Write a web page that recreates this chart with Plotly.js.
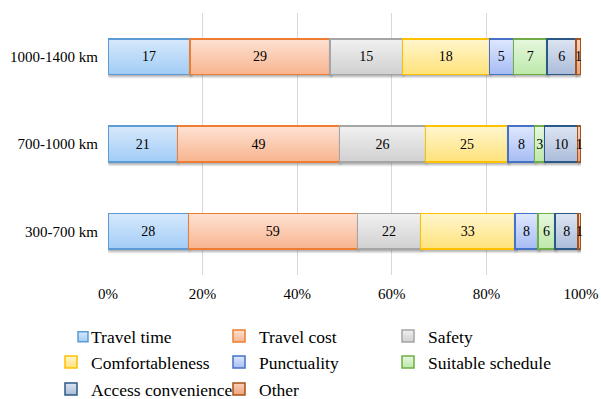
<!DOCTYPE html>
<html>
<head>
<meta charset="utf-8">
<script src="https://cdn.plot.ly/plotly-3.0.1.min.js"></script>
<style>
  html, body { margin: 0; padding: 0; background: #fff; }
  #chart { width: 601px; height: 399px; }
  #fx { position: absolute; width: 0; height: 0; overflow: hidden; }
</style>
</head>
<body>
<svg id="fx" aria-hidden="true"><defs id="fxdefs"></defs></svg>
<div id="chart"></div>
<script>
// Distance bands (bottom to top)
const categories = ['300-700 km', '700-1000 km', '1000-1400 km'];

// Number of answers per factor, same order as categories
const travelTime   = [28, 21, 17];
const travelCost   = [59, 49, 29];
const safety       = [22, 26, 15];
const comfort      = [33, 25, 18];
const punctuality  = [8, 8, 5];
const schedule     = [6, 3, 7];
const access       = [8, 10, 6];
const other        = [1, 1, 1];

const seriesNames = ['Travel time', 'Travel cost', 'Safety', 'Comfortableness',
                     'Punctuality', 'Suitable schedule', 'Access convenience', 'Other'];
const seriesValues = [travelTime, travelCost, safety, comfort, punctuality, schedule, access, other];

const xTickVals = [0, 20, 40, 60, 80, 100];
const xTickText = xTickVals.map(v => v + '%');

// fill top, fill bottom, outline
const palette = [
  ['#d7e9fc', '#a2ccf6', '#5b9bd5'],
  ['#fee2d3', '#f8b48f', '#ed7d31'],
  ['#f1f1f1', '#d0d0d0', '#a5a5a5'],
  ['#fff6cf', '#ffe27a', '#ffc000'],
  ['#dfe8fe', '#a6bcf4', '#4472c4'],
  ['#e7f8df', '#bde8aa', '#70ad47'],
  ['#dde5f2', '#abbcda', '#2c5987'],
  ['#f9d2bd', '#eea27a', '#a5521a']
];

const serif = '"Liberation Serif", "Times New Roman", serif';

// legend grid: three columns, three rows (left edge of text / row centre, px)
const legendColsX = [91, 259, 428];
const legendRowsY = [336, 362, 389];
const legendKey = i => (i === 0 ? 'legend' : 'legend' + (i + 1));

const traces = seriesNames.map((name, i) => ({
  type: 'bar',
  orientation: 'h',
  name: name,
  y: categories,
  x: seriesValues[i],
  text: seriesValues[i].map(String),
  texttemplate: '%{text}',
  textposition: 'inside',
  insidetextanchor: 'middle',
  constraintext: 'none',
  cliponaxis: false,
  textfont: { family: serif, size: 14, color: '#000' },
  marker: {
    color: palette[i][0],
    line: { color: palette[i][2], width: 1.5 }
  },
  legend: legendKey(i),
  hoverinfo: 'name+x'
}));

const W = 601, H = 399;
const M = { l: 108, r: 20, t: 13, b: 124 };

const layout = {
  width: W, height: H,
  margin: { l: M.l, r: M.r, t: M.t, b: M.b, pad: 0 },
  paper_bgcolor: '#fff',
  plot_bgcolor: '#fff',
  barmode: 'stack',
  barnorm: 'percent',
  bargap: 0.59,
  font: { family: serif, size: 15, color: '#000' },
  xaxis: {
    range: [0, 100],
    tickmode: 'array',
    tickvals: xTickVals,
    ticktext: xTickText,
    showgrid: true,
    gridcolor: '#d9d9d9',
    gridwidth: 1,
    zeroline: false,
    showline: false,
    ticks: '',
    ticklabelstandoff: 8,
    tickfont: { family: serif, size: 15, color: '#000' },
    fixedrange: true
  },
  yaxis: {
    type: 'category',
    showgrid: false,
    zeroline: false,
    showline: false,
    ticks: '',
    ticklabelstandoff: 9,
    tickfont: { family: serif, size: 15, color: '#000' },
    fixedrange: true
  },
  showlegend: true
};
seriesNames.forEach((name, i) => {
  const col = i % 3, row = Math.floor(i / 3);
  layout[legendKey(i)] = {
    orientation: 'h',
    xref: 'container', yref: 'container',
    x: (legendColsX[col] - 40) / W,
    xanchor: 'left',
    y: 1 - legendRowsY[row] / H,
    yanchor: 'middle',
    bgcolor: 'rgba(0,0,0,0)',
    font: { family: serif, size: 17.5, color: '#000' }
  };
});

const ns = 'http://www.w3.org/2000/svg';

// Vertical fill gradients and a soft drop shadow, defined once
function buildDefs() {
  const defs = document.getElementById('fxdefs');
  if (defs.childNodes.length) return;
  palette.forEach((p, i) => {
    const g = document.createElementNS(ns, 'linearGradient');
    g.setAttribute('id', 'barfill' + i);
    g.setAttribute('x1', '0'); g.setAttribute('y1', '0');
    g.setAttribute('x2', '0'); g.setAttribute('y2', '1');
    [[0, p[0]], [1, p[1]]].forEach(([o, c]) => {
      const s = document.createElementNS(ns, 'stop');
      s.setAttribute('offset', o);
      s.setAttribute('stop-color', c);
      g.appendChild(s);
    });
    defs.appendChild(g);
  });
  const f = document.createElementNS(ns, 'filter');
  f.setAttribute('id', 'barshadow');
  f.setAttribute('x', '-10%'); f.setAttribute('y', '-10%');
  f.setAttribute('width', '130%'); f.setAttribute('height', '150%');
  const ds = document.createElementNS(ns, 'feDropShadow');
  ds.setAttribute('dx', '1'); ds.setAttribute('dy', '2');
  ds.setAttribute('stdDeviation', '1');
  ds.setAttribute('flood-color', '#000');
  ds.setAttribute('flood-opacity', '0.3');
  f.appendChild(ds);
  defs.appendChild(f);
}

function styleChart(gd) {
  buildDefs();
  gd.querySelectorAll('.barlayer .trace').forEach((tr, i) => {
    tr.querySelectorAll('.point path').forEach(p => {
      p.style.fill = 'url(#barfill' + i + ')';
      p.style.filter = 'url(#barshadow)';
    });
  });

  // small square swatch sitting just left of each legend label
  const swatch = 10;
  gd.querySelectorAll('g.traces').forEach(t => {
    const d = t.__data__;
    const idx = d && d[0] && d[0].trace ? d[0].trace.index : null;
    if (idx === null || idx === undefined) return;
    const txt = t.querySelector('text.legendtext');
    t.querySelectorAll('.legendpoints path').forEach(p => {
      p.style.fill = 'url(#barfill' + idx + ')';
      if (!txt) return;
      const bb = p.getBBox();
      if (!bb.width) return;
      const pr = p.getBoundingClientRect();
      const tr = txt.getBoundingClientRect();
      let m = { a: 1, d: 1, e: 0, f: 0 };
      const base = p.transform && p.transform.baseVal;
      if (base && base.numberOfItems) m = base.consolidate().matrix;
      const cx = bb.x + bb.width / 2, cy = bb.y + bb.height / 2;
      const dx = (tr.left - 3 - swatch / 2) - (pr.left + pr.width / 2);
      const dy = (tr.top + tr.height * 0.5) - (pr.top + pr.height / 2);
      const ex = m.e + m.a * cx + dx, ey = m.f + m.d * cy + dy;
      const s = swatch / bb.width;
      p.setAttribute('transform',
        'translate(' + ex + ',' + ey + ') scale(' + s + ') translate(' + (-cx) + ',' + (-cy) + ')');
      p.style.strokeWidth = (1.5 / s) + 'px';
    });
  });
}

const gd = document.getElementById('chart');
Plotly.newPlot(gd, traces, layout, { displayModeBar: false, staticPlot: true })
  .then(() => {
    styleChart(gd);
    gd.on('plotly_afterplot', () => styleChart(gd));
    setTimeout(() => styleChart(gd), 50);
    setTimeout(() => styleChart(gd), 300);
  });
</script>
</body>
</html>
